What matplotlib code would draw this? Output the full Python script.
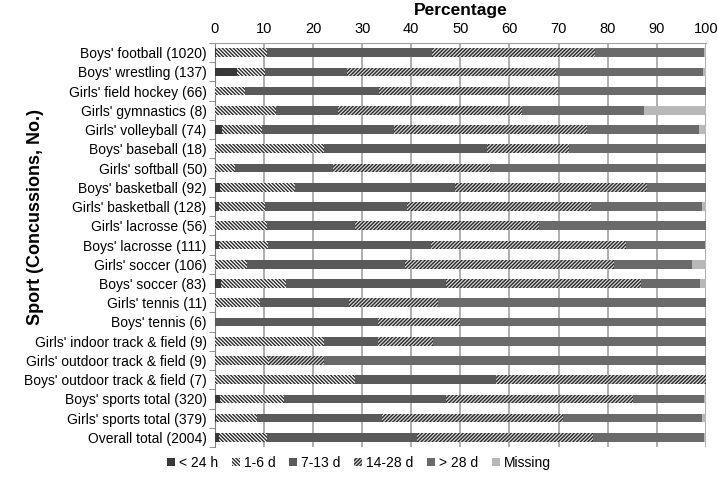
import matplotlib
matplotlib.use("Agg")
import matplotlib.pyplot as plt
import numpy as np
from matplotlib.patches import Patch

plt.rcParams['font.family'] = ['Liberation Sans', 'DejaVu Sans']
plt.rcParams['hatch.linewidth'] = 1.0
plt.rcParams['hatch.color'] = '#2a2a2a'

sports = ["Boys' football (1020)", "Boys' wrestling (137)", "Girls' field hockey (66)",
          "Girls' gymnastics (8)", "Girls' volleyball (74)", "Boys' baseball (18)",
          "Girls' softball (50)", "Boys' basketball (92)", "Girls' basketball (128)",
          "Girls' lacrosse (56)", "Boys' lacrosse (111)", "Girls' soccer (106)",
          "Boys' soccer (83)", "Girls' tennis (11)", "Boys' tennis (6)",
          "Girls' indoor track & field (9)", "Girls' outdoor track & field (9)",
          "Boys' outdoor track & field (7)", "Boys' sports total (320)",
          "Girls' sports total (379)", "Overall total (2004)"]

lt24   = [0.3, 4.4, 0, 0, 1.4, 0, 0, 1.1, 0.8, 0, 0.9, 0, 1.2, 0, 0, 0, 0, 0, 1.0, 0.3, 0.8]
d1_6   = [10.3, 5.7, 6.1, 12.5, 8.1, 22.2, 4.0, 15.2, 9.4, 10.7, 9.9, 6.6, 13.3, 9.1, 0, 22.2, 11.1, 28.6, 13.0, 8.3, 9.9]
d7_13  = [33.6, 16.9, 27.3, 12.5, 27.0, 33.3, 20.0, 32.6, 28.9, 17.9, 33.3, 32.1, 32.5, 18.2, 33.3, 11.1, 0, 28.6, 33.0, 25.4, 30.4]
d14_28 = [33.3, 42.5, 36.4, 37.5, 39.2, 16.7, 32.0, 39.1, 37.5, 37.5, 39.6, 42.5, 39.8, 18.2, 16.7, 11.1, 11.1, 42.9, 38.2, 37.0, 36.0]
gt28   = [22.2, 30.0, 30.3, 25.0, 23.0, 27.8, 44.0, 12.0, 22.7, 33.9, 16.2, 16.0, 12.0, 54.5, 50.0, 55.6, 77.8, 0, 14.5, 28.3, 22.6]
missing = [0.3, 0.5, 0, 12.5, 1.4, 0, 0, 0, 0.8, 0, 0, 2.8, 1.2, 0, 0, 0, 0, 0, 0.3, 0.7, 0.3]

series_names = ["< 24 h", "1-6 d", "7-13 d", "14-28 d", "> 28 d", "Missing"]
series = [lt24, d1_6, d7_13, d14_28, gt28, missing]
styles = [
    dict(facecolor='#383838', hatch=None),
    dict(facecolor='#ffffff', hatch='\\' * 9),
    dict(facecolor='#5a5a5a', hatch=None),
    dict(facecolor='#d8d8d8', hatch='/' * 9),
    dict(facecolor='#6a6a6a', hatch=None),
    dict(facecolor='#b8b8b8', hatch=None),
]

fig = plt.figure(figsize=(7.18, 4.82), dpi=100)
ax = fig.add_axes([0.2994, 0.0726, 0.6836, 0.8382])

y = np.arange(len(sports))
left = np.zeros(len(sports))
handles = []
for name, vals, st in zip(series_names, series, styles):
    vals = np.array(vals, dtype=float)
    ax.barh(y, vals, left=left, height=0.45, facecolor=st['facecolor'],
            edgecolor='#2a2a2a', hatch=st['hatch'], linewidth=0, zorder=3)
    left += vals
    handles.append(Patch(facecolor=st['facecolor'], edgecolor='#2a2a2a',
                         hatch=st['hatch'], linewidth=0, label=name))

ax.set_xlim(0, 100)
ax.set_ylim(len(sports) - 0.5, -0.5)
ax.set_xticks(np.arange(0, 101, 10))
ax.xaxis.tick_top()
ax.xaxis.set_label_position('top')
ax.tick_params(axis='x', length=0, labelsize=10.5, pad=5, colors='#000000')
ax.set_xlabel('Percentage', fontsize=12.5, fontweight='bold', labelpad=5)

ax.set_yticks(y)
ax.set_yticklabels(sports, fontsize=10)
ax.tick_params(axis='y', which='major', length=0, pad=6)
ax.set_yticks(np.arange(-0.5, len(sports) + 0.5, 1), minor=True)
ax.tick_params(axis='y', which='minor', length=4, color='#808080')
ax.set_ylabel('Sport (Concussions, No.)', fontsize=13, fontweight='bold')
ax.yaxis.set_label_coords(-0.348, 0.57)

ax.grid(axis='x', color='#999999', linewidth=1.1, zorder=0)
ax.set_axisbelow(True)
for s in ['right', 'bottom']:
    ax.spines[s].set_visible(False)
ax.spines['left'].set_color('#808080')
ax.spines['top'].set_color('#a0a0a0')

fig.legend(handles=handles, loc='center', bbox_to_anchor=(0.5, 0.039), ncol=6,
           frameon=False, fontsize=10, handlelength=0.55, handleheight=0.55,
           handletextpad=0.3, columnspacing=1.0)

fig.savefig('out.png', dpi=100)
